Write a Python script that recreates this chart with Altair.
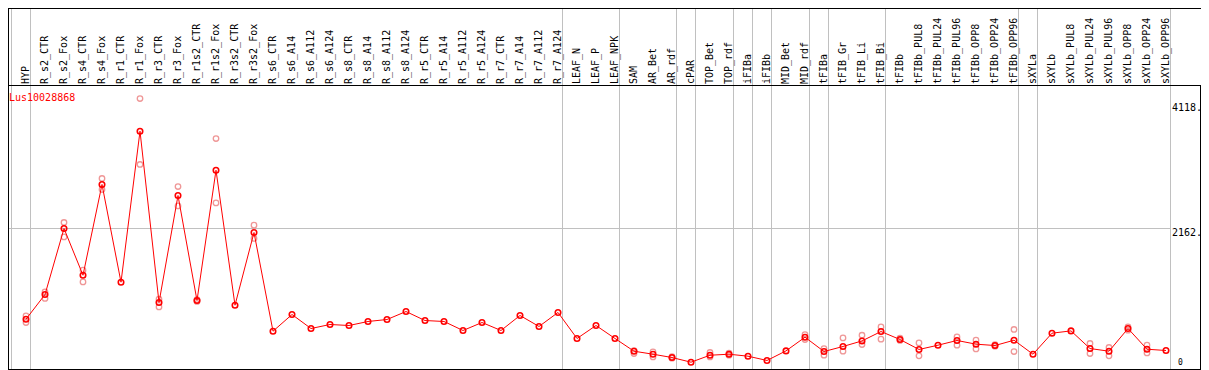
import altair as alt
import pandas as pd

gene_id = "Lus10028868"

samples = [
    "HYP", "R_s2_CTR", "R_s2_Fox", "R_s4_CTR", "R_s4_Fox", "R_r1_CTR", "R_r1_Fox",
    "R_r3_CTR", "R_r3_Fox", "R_r1s2_CTR", "R_r1s2_Fox", "R_r3s2_CTR", "R_r3s2_Fox",
    "R_s6_CTR", "R_s6_A14", "R_s6_A112", "R_s6_A124", "R_s8_CTR", "R_s8_A14",
    "R_s8_A112", "R_s8_A124", "R_r5_CTR", "R_r5_A14", "R_r5_A112", "R_r5_A124",
    "R_r7_CTR", "R_r7_A14", "R_r7_A112", "R_r7_A124", "LEAF_N", "LEAF_P", "LEAF_NPK",
    "SAM", "AR_Bet", "AR_rdf", "cPAR", "TOP_Bet", "TOP_rdf", "iFIBa", "iFIBb",
    "MID_Bet", "MID_rdf", "tFIBa", "tFIB_Gr", "tFIB_Li", "tFIB_Bi", "tFIBb",
    "tFIBb_PUL8", "tFIBb_PUL24", "tFIBb_PUL96", "tFIBb_OPP8", "tFIBb_OPP24",
    "tFIBb_OPP96", "sXYLa", "sXYLb", "sXYLb_PUL8", "sXYLb_PUL24", "sXYLb_PUL96",
    "sXYLb_OPP8", "sXYLb_OPP24", "sXYLb_OPP96",
]

mean_vals = [
    743, 1129, 2162, 1431, 2851, 1322, 3685,
    1004, 2678, 1035, 3074, 962, 2099,
    555, 816, 597, 660, 644, 707,
    738, 863, 722, 707, 566, 691,
    566, 801, 629, 848, 441, 644, 441,
    242, 195, 143, 70, 179, 195, 164, 97,
    247, 461, 237, 316, 403, 550, 425,
    269, 336, 410, 352, 331,
    414, 195, 524, 560, 284, 242,
    597, 273, 253,
]

rep1_vals = [
    794, 1170, 2256, 1510, 2945, None, 4196,
    1056, 2819, 1050, 3570, None, 2214,
    None, None, None, None, None, None,
    None, None, None, None, None, None,
    None, None, None, None, None, None, None,
    250, 231, 156, None, 222, 210, None, None,
    None, 503, 284, 450, 492, 622, 446,
    372, None, 466, 414, 344,
    582, None, None, None, 363, 300,
    622, 336, None,
]

rep2_vals = [
    691, 1067, 2031, 1326, 2772, None, 3164,
    935, 2516, 1020, 2563, None, 2006,
    None, None, None, None, None, None,
    None, None, None, None, None, None,
    None, None, None, None, None, None, None,
    206, 153, 133, None, 153, 179, None, None,
    None, 425, 179, 242, 347, 430, 410,
    169, None, 336, 278, 320,
    237, None, None, None, 206, 169,
    571, 215, None,
]

separator_after = [-1, 0, 28, 31, 34, 35, 37, 38, 39, 41, 42, 45, 52, 53, 60]
grid_values = [2162]
tick_values = [2162, 4118]
tick_labels = ["2162.", "4118."]
zero_values = [0]
zero_labels = ["0"]

# ---------------- tables ----------------
df = pd.DataFrame({"idx": list(range(len(samples))), "sample": samples, "mean": mean_vals})
rep_rows = []
for i, (a, b) in enumerate(zip(rep1_vals, rep2_vals)):
    for v in (a, b):
        if v is not None:
            rep_rows.append({"idx": i, "value": v})
reps = pd.DataFrame(rep_rows)
seps = pd.DataFrame({"after": separator_after})
grid = pd.DataFrame({"v": grid_values})
ticks = pd.DataFrame({"v": tick_values, "label": tick_labels})
zeros = pd.DataFrame({"v": zero_values, "label": zero_labels})
title_df = pd.DataFrame({"t": [gene_id]})

W, H = 1193, 362
STEP = 19.0
X0 = 18.0  # pixel of first column
xs = alt.Scale(domain=[-X0 / STEP, (W - X0) / STEP], nice=False, zero=False)
K = 125.0 / 1956.0
Y0 = 358.67
ys = alt.Scale(domain=[-(H - Y0) / K, -(H - Y0) / K + H / K], nice=False, zero=False)

FONT = "DejaVu Sans Mono"
GRAY = "#c0c0c0"
RIGHT = 1192.5

xenc = alt.X("idx:Q", scale=xs, axis=None)

sep_rules = alt.Chart(seps).transform_calculate(
    sep="datum.after + 4.5/19"
).mark_rule(color=GRAY, strokeWidth=1).encode(
    x=alt.X("sep:Q", scale=xs, axis=None),
    y=alt.value(0),
    y2=alt.value(H),
)

grid_rule = alt.Chart(grid).mark_rule(color=GRAY, strokeWidth=1).encode(
    y=alt.Y("v:Q", scale=ys, axis=None),
    x=alt.value(0),
    x2=alt.value(1162.5),
)

frame_h = pd.DataFrame({"k": [0]})
borders = [
    alt.Chart(frame_h).mark_rule(color="black", strokeWidth=1).encode(
        x=alt.value(0), x2=alt.value(W), y=alt.value(0.5)),
    alt.Chart(frame_h).mark_rule(color="black", strokeWidth=1).encode(
        x=alt.value(0), x2=alt.value(W), y=alt.value(77.5)),
    alt.Chart(frame_h).mark_rule(color="black", strokeWidth=1).encode(
        x=alt.value(0.5), y=alt.value(0), y2=alt.value(H)),
    alt.Chart(frame_h).mark_rule(color="black", strokeWidth=1).encode(
        x=alt.value(RIGHT), y=alt.value(77.5), y2=alt.value(H)),
    alt.Chart(frame_h).mark_rule(color="black", strokeWidth=1).encode(
        x=alt.value(0), x2=alt.value(RIGHT), y=alt.value(361.5)),
]

x_labels = alt.Chart(df).mark_text(
    angle=270, align="left", baseline="middle", font=FONT, fontSize=10, color="black"
).encode(x=xenc, y=alt.value(76), text="sample:N")

title = alt.Chart(title_df).mark_text(
    align="left", baseline="middle", font=FONT, fontSize=10, color="#ff0000"
).encode(x=alt.value(1), y=alt.value(89.5), text="t:N")

y_labels = alt.Chart(ticks).mark_text(
    align="left", baseline="top", font=FONT, fontSize=10, color="black", dy=-0.5
).encode(y=alt.Y("v:Q", scale=ys, axis=None), x=alt.value(1164), text="label:N")

zero_label = alt.Chart(zeros).mark_text(
    align="left", baseline="alphabetic", font=FONT, fontSize=8, color="black", dy=-1.5
).encode(y=alt.Y("v:Q", scale=ys, axis=None), x=alt.value(1170), text="label:N")

rep_pts = alt.Chart(reps).mark_point(
    shape="circle", filled=False, color="#ee8c8c", size=30, strokeWidth=1.3, opacity=0.9
).encode(x=xenc, y=alt.Y("value:Q", scale=ys, axis=None))

line = alt.Chart(df).mark_line(color="#ff0000", strokeWidth=1).encode(
    x=xenc, y=alt.Y("mean:Q", scale=ys, axis=None), order="idx:Q"
)

mean_pts = alt.Chart(df).mark_point(
    shape="circle", filled=False, color="#ff0000", size=30, strokeWidth=1.6, opacity=1
).encode(x=xenc, y=alt.Y("mean:Q", scale=ys, axis=None))

chart = alt.layer(
    sep_rules, grid_rule, *borders, x_labels, title, y_labels, zero_label,
    rep_pts, line, mean_pts
).properties(
    width=W, height=H, autosize=alt.AutoSizeParams(type="none"), padding=0,
    background="white"
).configure_view(stroke=None)

chart.save("out.html", embed_options={"renderer": "svg", "actions": False})
